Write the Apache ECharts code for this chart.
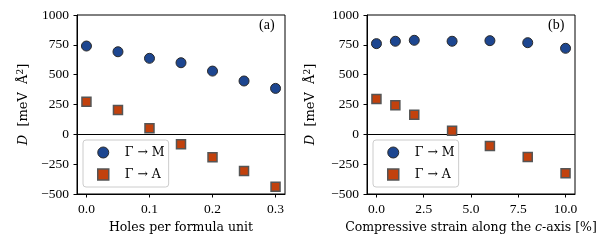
<!DOCTYPE html>
<html><head><meta charset="utf-8">
<script src="https://cdn.jsdelivr.net/npm/echarts@6/dist/echarts.min.js"></script>
<style>html,body{margin:0;padding:0;background:#fff}#c{width:612px;height:247px}</style>
</head><body><div id="c"></div>
<script>
const holesX = [0, 0.05, 0.1, 0.15, 0.2, 0.25, 0.3];
const holesM = [740, 692, 637, 600, 530, 447, 385];
const holesA = [273, 204, 50, -84, -193, -307, -439];
const strainX = [0, 1, 2, 4, 6, 8, 10];
const strainM = [760, 780, 788, 780, 785, 768, 721];
const strainA = [296, 243, 164, 30, -98, -190, -327];
const yTicks = [-500, -250, 0, 250, 500, 750, 1000];
const holesTicks = [0, 0.1, 0.2, 0.3];
const strainTicks = [0, 2.5, 5, 7.5, 10];
const nameM = 'Γ → M', nameA = 'Γ → A';

const TFONT = 'Liberation Serif';
const NFONT = 'DejaVu Serif';
const tickTxt = {fontFamily: TFONT, fontSize: 13.5, color: '#000'};
const nameTxt = {fontFamily: NFONT, fontSize: 12.5, color: '#000'};
const fmtMinus = v => String(v).replace('-', '\u2212');
function richOf(base) {
  return Object.assign({}, base, {rich: {
    i: Object.assign({}, base, {fontStyle: 'italic'}),
    s: Object.assign({}, base, {fontSize: 9, verticalAlign: 'top', padding: [0, 0, 7, 0]})
  }});
}
const richName = richOf(nameTxt);
const richY = richOf(Object.assign({}, nameTxt, {fontSize: 13}));

function xAx(idx, min, max, ticks, name) {
  return {
    type: 'value', gridIndex: idx, min: min, max: max,
    name: name, nameLocation: 'middle', nameGap: 26,
    nameTextStyle: richName,
    axisLine: {show: true, onZero: false, lineStyle: {color: '#000', width: 1}},
    axisTick: {show: true, length: 3.5, customValues: ticks, lineStyle: {color: '#000'}},
    axisLabel: Object.assign({}, tickTxt, {margin: 8, customValues: ticks, formatter: v => v.toFixed(1)}),
    splitLine: {show: false}
  };
}
function yAx(idx, gap) {
  return {
    type: 'value', gridIndex: idx, min: -500, max: 1000,
    name: '{i|D}  [meV  Å{s|2}]', nameLocation: 'middle', nameRotate: 90, nameGap: gap,
    nameTextStyle: richY,
    axisLine: {show: true, onZero: false, lineStyle: {color: '#000', width: 1}},
    axisTick: {show: true, length: 3.5, customValues: yTicks, lineStyle: {color: '#000'}},
    axisLabel: Object.assign({}, tickTxt, {margin: 8, customValues: yTicks, formatter: fmtMinus}),
    splitLine: {show: false}
  };
}
function pts(xs, ys) { return xs.map((x, i) => [x, ys[i]]); }
const circleStyle = {color: '#1d4690', borderColor: '#2a2a2a', borderWidth: 1, opacity: 1};
const squareStyle = {color: '#c2410c', borderColor: '#555', borderWidth: 1.5, opacity: 1};
function series(idx, xs, ys, name, sym, size, style, zero) {
  const s = {type: 'scatter', name: name, xAxisIndex: idx, yAxisIndex: idx, data: pts(xs, ys),
    symbol: sym, symbolSize: size, itemStyle: style, z: 3};
  if (zero) s.markLine = {silent: true, symbol: 'none', label: {show: false},
    lineStyle: {color: '#000', width: 1, type: 'solid'}, data: [{yAxis: 0}], z: 1};
  return s;
}
function legend(left) {
  return {
    left: left, top: 140, orient: 'vertical', itemGap: 9, itemWidth: 11, itemHeight: 11,
    padding: [6, 4, 6, 14], borderColor: '#ccc', borderWidth: 1, borderRadius: 3,
    backgroundColor: 'rgba(255,255,255,0.85)',
    textStyle: Object.assign({}, nameTxt, {padding: [0, 0, 0, 11]}),
    data: [{name: nameM, icon: 'circle', itemStyle: circleStyle}, {name: nameA, icon: 'rect', itemStyle: squareStyle}],
    selectedMode: false
  };
}
const chart = echarts.init(document.getElementById('c'), null, {renderer: 'canvas'});
chart.setOption({
  animation: false,
  backgroundColor: '#fff',
  grid: [
    {left: 77, top: 15, width: 208, height: 179, show: true, borderColor: '#000', borderWidth: 1, backgroundColor: 'transparent'},
    {left: 367, top: 15, width: 208, height: 179, show: true, borderColor: '#000', borderWidth: 1, backgroundColor: 'transparent'}
  ],
  xAxis: [
    xAx(0, -0.015, 0.315, holesTicks, 'Holes per formula unit'),
    xAx(1, -0.5, 10.5, strainTicks, 'Compressive strain along the {i|c}-axis [%]')
  ],
  yAxis: [yAx(0, 45), yAx(1, 48)],
  legend: [legend(83), legend(373)],
  series: [
    series(0, holesX, holesM, nameM, 'circle', 10, circleStyle, true),
    series(0, holesX, holesA, nameA, 'rect', 9, squareStyle, false),
    series(1, strainX, strainM, nameM, 'circle', 10, circleStyle, true),
    series(1, strainX, strainA, nameA, 'rect', 9, squareStyle, false)
  ],
  graphic: [
    {type: 'text', left: 259, top: 18, style: {text: '(a)', font: '14px ' + TFONT, fill: '#000'}},
    {type: 'text', left: 548, top: 18, style: {text: '(b)', font: '14px ' + TFONT, fill: '#000'}}
  ]
});
</script></body></html>
